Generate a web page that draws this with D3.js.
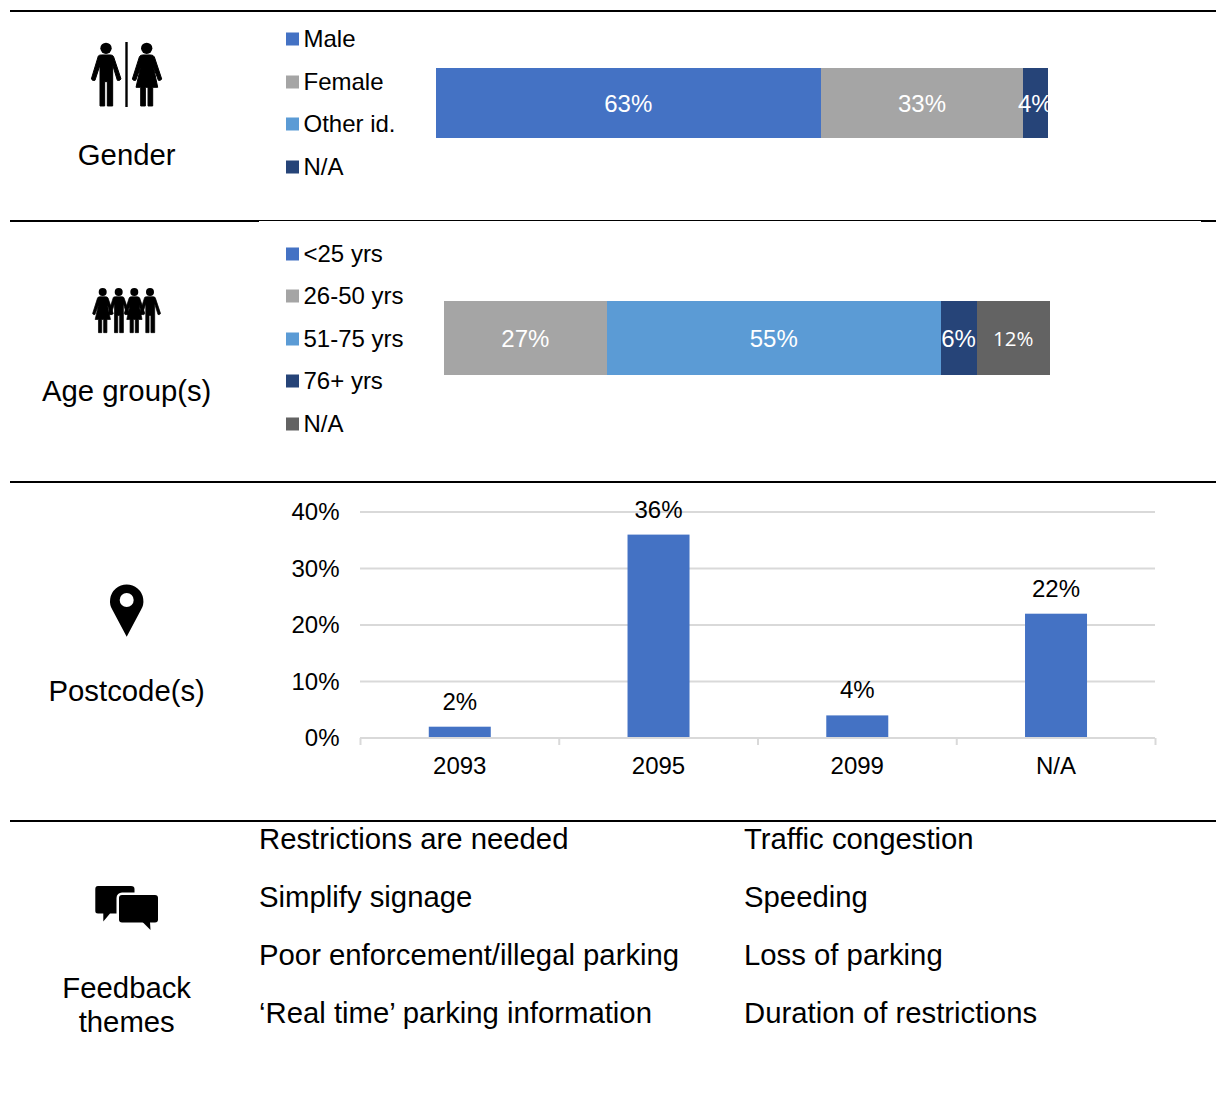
<!DOCTYPE html>
<html>
<head>
<meta charset="utf-8">
<script src="https://d3js.org/d3.v7.min.js"></script>
<style>
body { margin: 0; background: #fff; }
text { font-family: "Liberation Sans", Arial, sans-serif; fill: #000; }
</style>
</head>
<body>
<div id="chart"></div>
<script>
const genderLegend = ["Male", "Female", "Other id.", "N/A"];
const genderValues = [63, 33, 0, 4];
const genderColors = ["#4472c4", "#a5a5a5", "#5b9bd5", "#264478"];

const ageLegend = ["<25 yrs", "26-50 yrs", "51-75 yrs", "76+ yrs", "N/A"];
const ageValues = [0, 27, 55, 6, 12];
const ageColors = ["#4472c4", "#a5a5a5", "#5b9bd5", "#264478", "#636363"];

const postcodes = ["2093", "2095", "2099", "N/A"];
const postcodeValues = [2, 36, 4, 22];
const postcodeTicks = [0, 10, 20, 30, 40];

const themesLeft = ["Restrictions are needed", "Simplify signage", "Poor enforcement/illegal parking", "\u2018Real time\u2019 parking information"];
const themesRight = ["Traffic congestion", "Speeding", "Loss of parking", "Duration of restrictions"];

const svg = d3.select("#chart").append("svg")
    .attr("width", 1216)
    .attr("height", 1104)
    .style("display", "block");

const defs = svg.append("defs");

// divider lines
[[10, 1216, 11, 2], [10, 259, 221, 2], [259, 1201, 220.5, 1], [1201, 1216, 221, 2], [10, 1216, 482, 2], [10, 1216, 821, 2]].forEach(d => {
    svg.append("line")
        .attr("x1", d[0]).attr("x2", d[1])
        .attr("y1", d[2]).attr("y2", d[2])
        .style("stroke", "#000")
        .style("stroke-width", d[3]);
});

// section titles
function sectionTitle(lines, y) {
    lines.forEach((line, i) => {
        svg.append("text")
            .attr("x", 126.7)
            .attr("y", y + i * 34)
            .attr("text-anchor", "middle")
            .style("font-size", "29.3px")
            .text(line);
    });
}
sectionTitle(["Gender"], 165);
sectionTitle(["Age group(s)"], 400.5);
sectionTitle(["Postcode(s)"], 701);
sectionTitle(["Feedback", "themes"], 998);

// icons, outlines are in units of 1/3 px
const manPath = "M-23 23 Q-20 20 -14 20 L14 20 Q21 20 23 26 L45 92 Q42 98 34 96 L20 50 L20 173 L4 173 L4 100 L-4 100 L-4 173 L-18 173 L-18 50 L-33 96 Q-41 98 -44 92 Z";
const womanPath = "M-12 20 L12 20 Q20 20 23 26 L45 92 Q42 98 35 96 L20 55 L33 117 L18 117 L18 173 L4 173 L4 117 L-4 117 L-4 173 L-18 173 L-18 117 L-32 117 L-18 55 L-33 96 Q-41 98 -43 92 L-22 26 Q-20 20 -12 20 Z";

function person(path, x, y, k) {
    const g = svg.append("g").attr("transform", `translate(${x},${y}) scale(${k})`);
    g.append("circle").attr("cx", 0).attr("cy", 0).attr("r", 17).style("fill", "#000");
    g.append("path").attr("d", path)
        .style("fill", "#000")
        .style("stroke", "#000")
        .style("stroke-width", 3);
}
person(manPath, 106, 48.3, 1 / 3);
person(womanPath, 146.7, 48.3, 1 / 3);
svg.append("line")
    .attr("x1", 126.5).attr("x2", 126.5)
    .attr("y1", 42).attr("y2", 107)
    .style("stroke", "#000").style("stroke-width", 2.4);

person(womanPath, 102.7, 292, 0.235);
person(manPath, 118.7, 292, 0.235);
person(womanPath, 134.3, 292, 0.235);
person(manPath, 150, 292, 0.235);

// location pin
svg.append("path")
    .attr("d", "M126.7 636.7 L112.5 610 A16.7 16.7 0 1 1 140.9 610 Z")
    .style("fill", "#000");
svg.append("circle")
    .attr("cx", 126.7).attr("cy", 600).attr("r", 7)
    .style("fill", "#fff");

// speech bubbles
svg.append("path")
    .attr("d", "M98 886 H131 Q134.5 886 134.5 889 V910 H130 V913.5 H110 L103.3 921.5 V913.5 H98 Q95.3 913.5 95.3 911 V889 Q95.3 886 98 886 Z")
    .style("fill", "#000");
svg.append("rect")
    .attr("x", 119).attr("y", 895).attr("width", 39).attr("height", 27.5).attr("rx", 3)
    .style("fill", "#000").style("stroke", "#fff").style("stroke-width", 5).style("paint-order", "stroke");
svg.append("path")
    .attr("d", "M142.5 922 L150.5 930 L150 922 Z")
    .style("fill", "#000");

// legend
function legend(labels, colors, ys) {
    labels.forEach((label, i) => {
        svg.append("rect")
            .attr("x", 286).attr("y", ys[i] - 6.5)
            .attr("width", 13).attr("height", 13)
            .style("fill", colors[i]);
        svg.append("text")
            .attr("x", 303.5).attr("y", ys[i] + 8)
            .style("font-size", "24px")
            .text(label);
    });
}
legend(genderLegend, genderColors, [39, 82, 124, 167]);
legend(ageLegend, ageColors, [254, 296, 339, 381, 424]);

// stacked bars
function stackedBar(values, colors, x0, x1, y0, y1, id, otherFontIndex) {
    const x = d3.scaleLinear().domain([0, d3.sum(values)]).range([x0, x1]);
    const edge = v => Math.floor(x(v) + 0.1);
    const starts = d3.cumsum([0].concat(values));
    defs.append("clipPath").attr("id", id)
        .append("rect")
        .attr("x", x0).attr("y", y0)
        .attr("width", x1 - x0).attr("height", y1 - y0);
    values.forEach((v, i) => {
        if (!v) return;
        svg.append("rect")
            .attr("x", edge(starts[i])).attr("y", y0)
            .attr("width", edge(starts[i] + v) - edge(starts[i]))
            .attr("height", y1 - y0)
            .style("fill", colors[i]);
    });
    values.forEach((v, i) => {
        if (!v) return;
        const other = i === otherFontIndex;
        svg.append("text")
            .attr("x", x(starts[i] + v / 2) - 0.5)
            .attr("y", (y0 + y1) / 2 + (other ? 7.5 : 8.5))
            .attr("text-anchor", "middle")
            .attr("clip-path", `url(#${id})`)
            .style("fill", "#fff")
            .style("font-family", other ? "'Open Sans'" : null)
            .style("font-size", other ? "20.5px" : "24px")
            .text(v + "%");
    });
}
stackedBar(genderValues, genderColors, 436, 1048, 68, 138, "clip-gender");
stackedBar(ageValues, ageColors, 444, 1050, 301, 375, "clip-age", 4);

// postcode column chart
const xBand = d3.scaleBand().domain(postcodes).range([360, 1155]);
const yScale = d3.scaleLinear().domain([0, 40]).range([738, 512]);
const barWidth = 62;

svg.selectAll(".grid")
    .data(postcodeTicks.slice(1))
    .join("line")
    .attr("class", "grid")
    .attr("x1", 360).attr("x2", 1155)
    .attr("y1", d => yScale(d)).attr("y2", d => yScale(d))
    .style("stroke", "#d9d9d9")
    .style("stroke-width", 2);

svg.selectAll(".ytick")
    .data(postcodeTicks)
    .join("text")
    .attr("class", "ytick")
    .attr("x", 339.5)
    .attr("y", d => yScale(d) + 8)
    .attr("text-anchor", "end")
    .style("font-size", "24px")
    .text(d => d + "%");

svg.selectAll(".bar")
    .data(postcodes)
    .join("rect")
    .attr("class", "bar")
    .attr("x", d => xBand(d) + xBand.bandwidth() / 2 - barWidth / 2 + 0.4)
    .attr("y", (d, i) => yScale(postcodeValues[i]))
    .attr("width", barWidth)
    .attr("height", (d, i) => yScale(0) - yScale(postcodeValues[i]))
    .style("fill", "#4472c4");

svg.append("line")
    .attr("x1", 360).attr("x2", 1155)
    .attr("y1", yScale(0)).attr("y2", yScale(0))
    .style("stroke", "#d9d9d9").style("stroke-width", 2);

svg.selectAll(".xtick")
    .data(d3.range(postcodes.length + 1))
    .join("line")
    .attr("class", "xtick")
    .attr("x1", d => 360.5 + d * xBand.step()).attr("x2", d => 360.5 + d * xBand.step())
    .attr("y1", yScale(0)).attr("y2", yScale(0) + 7)
    .style("stroke", "#d9d9d9").style("stroke-width", 2);

svg.selectAll(".xlabel")
    .data(postcodes)
    .join("text")
    .attr("class", "xlabel")
    .attr("x", d => xBand(d) + xBand.bandwidth() / 2 + 0.4)
    .attr("y", 774)
    .attr("text-anchor", "middle")
    .style("font-size", "24px")
    .text(d => d);

svg.selectAll(".barlabel")
    .data(postcodes)
    .join("text")
    .attr("class", "barlabel")
    .attr("x", d => xBand(d) + xBand.bandwidth() / 2 + 0.4)
    .attr("y", (d, i) => yScale(postcodeValues[i]) - 17)
    .attr("text-anchor", "middle")
    .style("font-size", "24px")
    .text((d, i) => postcodeValues[i] + "%");

// feedback themes
function themeColumn(items, x) {
    items.forEach((item, i) => {
        svg.append("text")
            .attr("x", x)
            .attr("y", 849 + i * 58)
            .style("font-size", "29.3px")
            .text(item);
    });
}
themeColumn(themesLeft, 259);
themeColumn(themesRight, 744);
</script>
</body>
</html>
